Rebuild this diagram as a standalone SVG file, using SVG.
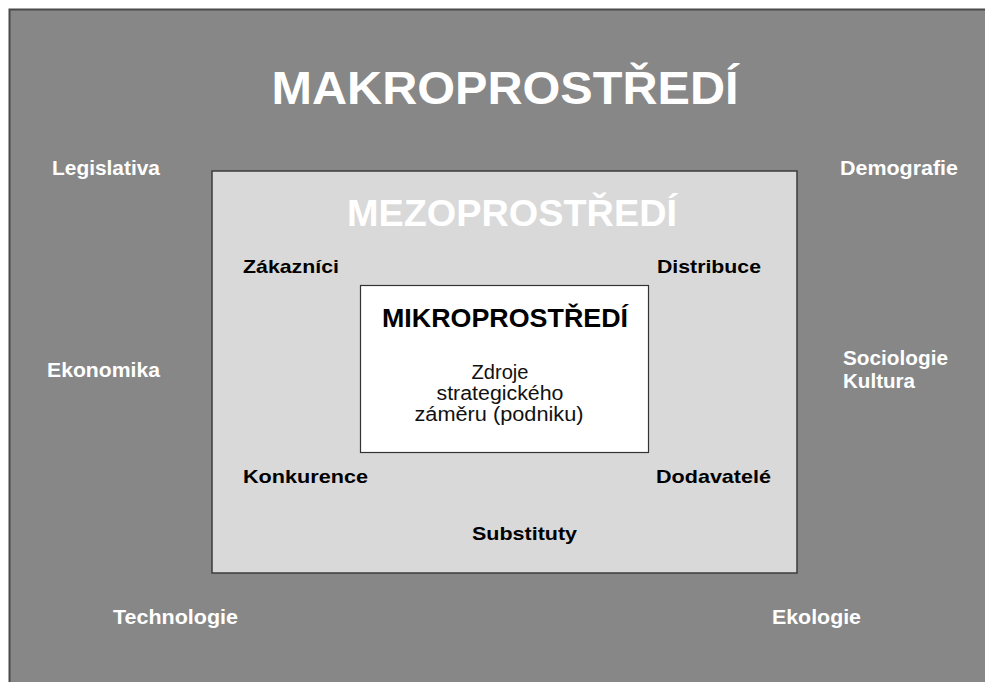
<svg xmlns="http://www.w3.org/2000/svg" width="985" height="682" viewBox="0 0 985 682">
<style>
text{font-family:"Liberation Sans",Arial,sans-serif}
.out{font-size:20px;font-weight:bold;fill:#fff}
.inn{font-size:19px;font-weight:bold;fill:#000}
.body{font-size:20px;fill:#111;text-anchor:middle}
</style>
<rect width="985" height="682" fill="#fff"/>
<g id="makro">
<rect x="9.5" y="9.5" width="990" height="690" fill="#878787" stroke="#4a4a4a" stroke-width="2"/>
<text x="505" y="104" font-size="46" font-weight="bold" fill="#fff" text-anchor="middle" textLength="467" lengthAdjust="spacingAndGlyphs">MAKROPROSTŘEDÍ</text>
<text class="out" x="52" y="175" textLength="108" lengthAdjust="spacingAndGlyphs">Legislativa</text>
<text class="out" x="840" y="175" textLength="118" lengthAdjust="spacingAndGlyphs">Demografie</text>
<text class="out" x="47" y="377" textLength="113" lengthAdjust="spacingAndGlyphs">Ekonomika</text>
<text class="out" x="843" y="365" textLength="105" lengthAdjust="spacingAndGlyphs">Sociologie</text>
<text class="out" x="843" y="388" textLength="72" lengthAdjust="spacingAndGlyphs">Kultura</text>
<text class="out" x="113" y="624" textLength="125" lengthAdjust="spacingAndGlyphs">Technologie</text>
<text class="out" x="772" y="624" textLength="89" lengthAdjust="spacingAndGlyphs">Ekologie</text>
</g>
<g id="mezo">
<rect x="212" y="171" width="585" height="402" fill="#d9d9d9" stroke="#3c3c3c" stroke-width="1.5"/>
<text x="512" y="225.5" font-size="36" font-weight="bold" fill="#fff" text-anchor="middle" textLength="330" lengthAdjust="spacingAndGlyphs">MEZOPROSTŘEDÍ</text>
<text class="inn" x="243" y="273" textLength="96" lengthAdjust="spacingAndGlyphs">Zákazníci</text>
<text class="inn" x="657" y="273" textLength="104" lengthAdjust="spacingAndGlyphs">Distribuce</text>
<text class="inn" x="243" y="483" textLength="125" lengthAdjust="spacingAndGlyphs">Konkurence</text>
<text class="inn" x="656" y="483" textLength="115" lengthAdjust="spacingAndGlyphs">Dodavatelé</text>
<text class="inn" x="472" y="540" textLength="105" lengthAdjust="spacingAndGlyphs">Substituty</text>
</g>
<g id="mikro">
<rect x="360.5" y="285.5" width="288" height="167" fill="#fff" stroke="#333" stroke-width="1.2"/>
<text x="505" y="327" font-size="25" font-weight="bold" fill="#000" text-anchor="middle" textLength="246" lengthAdjust="spacingAndGlyphs">MIKROPROSTŘEDÍ</text>
<text class="body" x="500" y="379" textLength="57" lengthAdjust="spacingAndGlyphs">Zdroje</text>
<text class="body" x="500" y="400" textLength="127" lengthAdjust="spacingAndGlyphs">strategického</text>
<text class="body" x="499" y="421" textLength="169" lengthAdjust="spacingAndGlyphs">záměru (podniku)</text>
</g>
<g id="connectors"/>
</svg>
